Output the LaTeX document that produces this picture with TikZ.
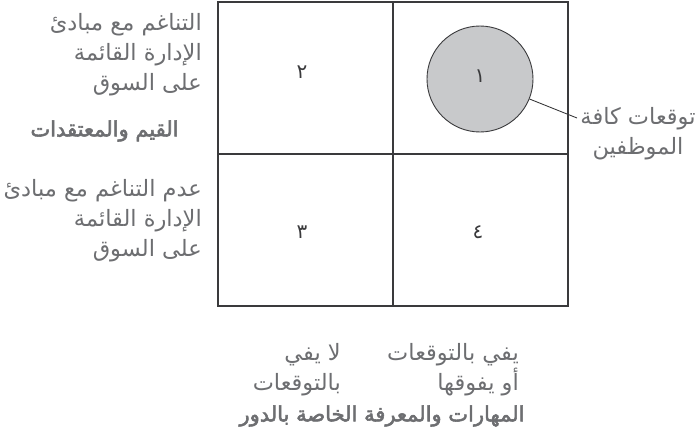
\documentclass[tikz,border=0pt]{standalone}
\usepackage{fontspec}
\TeXXeTstate=1
\newfontfamily\arabicfont[Script=Arabic]{DejaVu Sans}
\newfontfamily\arabicbold[Script=Arabic, FakeBold=2.6]{DejaVu Sans}
\definecolor{txtgray}{HTML}{6D6E71}
\definecolor{linegray}{HTML}{3A3A3C}
\definecolor{circfill}{HTML}{C8C9CB}
\tikzset{
  lbl/.style={font=\arabicfont\fontsize{22.5}{30}\selectfont, text=txtgray, inner sep=0pt},
  bold/.style={font=\arabicbold\fontsize{21}{30}\selectfont, text=txtgray, inner sep=0pt},
  num/.style={font=\arabicfont\fontsize{20}{22}\selectfont, text=linegray, inner sep=0pt},
  gridline/.style={draw=linegray, line width=1.2pt},
}
\begin{document}
\begin{tikzpicture}[x=1pt,y=-1pt]
\useasboundingbox (0,0) rectangle (697,439);
% grid
\coordinate (tl) at (218,2);
\coordinate (br) at (568,306);
\coordinate (tm) at (393,2);
\coordinate (bm) at (393,306);
\coordinate (ml) at (218,154);
\coordinate (mr) at (568,154);
\draw[gridline] (tl) rectangle (br);
\draw[gridline] (tm) -- (bm);
\draw[gridline] (ml) -- (mr);
% circle
\node[circle, draw=linegray, line width=0.9pt, fill=circfill, minimum size=106pt, inner sep=0pt] (c1) at (480,79) {};
\node[num] (n1) at (480,76) {\beginR ١\endR};
\node[num] (n2) at (302,72) {\beginR ٢\endR};
\node[num] (n3) at (302,232) {\beginR ٣\endR};
\node[num] (n4) at (478,232) {\beginR ٤\endR};
% leader
\coordinate (lend) at (577,118);
\draw[draw=linegray, line width=0.9pt] (c1.-22) -- (lend);
% right label
\node[lbl, align=center] (rl) at (638,134) {\beginR توقعات كافة\endR\\\beginR الموظفين\endR};
% left labels
\node[lbl, align=right, anchor=east] (lt) at (202,55) {\beginR التناغم مع مبادئ\endR\\\beginR الإدارة القائمة\endR\\\beginR على السوق\endR};
\node[bold] (lv) at (104.5,131) {\beginR القيم والمعتقدات\endR};
\node[lbl, align=right, anchor=east] (lb) at (202,221) {\beginR عدم التناغم مع مبادئ\endR\\\beginR الإدارة القائمة\endR\\\beginR على السوق\endR};
% bottom labels
\node[lbl, align=right, anchor=east] (br1) at (519,370) {\beginR يفي بالتوقعات\endR\\\beginR أو يفوقها\endR};
\node[lbl, align=right, anchor=east] (bl1) at (341,370) {\beginR لا يفي\endR\\\beginR بالتوقعات\endR};
\node[bold] (bt) at (382,416) {\beginR المهارات والمعرفة الخاصة بالدور\endR};
\end{tikzpicture}
\end{document}
